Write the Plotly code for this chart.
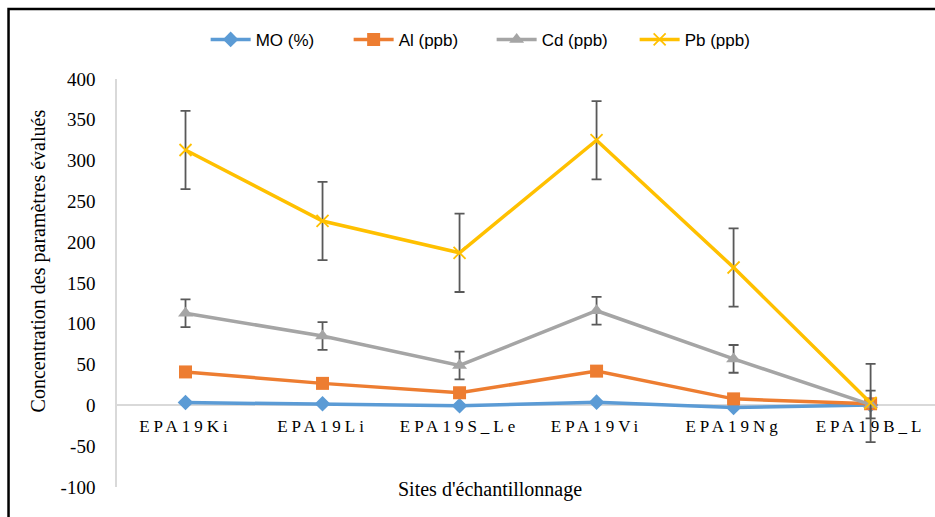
import plotly.graph_objects as go

sites = ["EPA19Ki", "EPA19Li", "EPA19S_Le", "EPA19Vi", "EPA19Ng", "EPA19B_L"]
mo = [3.5, 2, -0.5, 4, -2.5, 0.5]
al = [41, 27, 15.5, 42, 8, 2]
cd = [113, 85, 49, 116, 57, 1]
pb = [313, 226, 187, 325, 169, 3]
cd_err = [17, 17, 17, 17, 17, 17]
pb_err = [48, 48, 48, 48, 48, 48]
y_ticks = [-100, -50, 0, 50, 100, 150, 200, 250, 300, 350, 400]
y_tick_labels = ["-100", "-50", "0", "50", "100", "150", "200", "250", "300", "350", "400"]

serif = "Liberation Serif, Times New Roman, serif"
sans = "Liberation Sans Narrow, Arial Narrow, Liberation Sans, sans-serif"

fig = go.Figure()
err_style = dict(type="data", color="#595959", thickness=1.8, width=5)

fig.add_trace(go.Scatter(x=sites, y=mo, name="MO (%)", mode="lines+markers",
                         line=dict(color="#5B9BD5", width=3.5),
                         marker=dict(symbol="diamond", size=12, color="#5B9BD5")))
fig.add_trace(go.Scatter(x=sites, y=al, name="Al (ppb)", mode="lines+markers",
                         line=dict(color="#ED7D31", width=3.5),
                         marker=dict(symbol="square", size=13, color="#ED7D31")))
fig.add_trace(go.Scatter(x=sites, y=cd, name="Cd (ppb)", mode="lines+markers",
                         line=dict(color="#A5A5A5", width=3.5),
                         marker=dict(symbol="triangle-up", size=13, color="#A5A5A5"),
                         error_y=dict(array=cd_err, **err_style)))
fig.add_trace(go.Scatter(x=sites, y=pb, name="Pb (ppb)", mode="lines+markers",
                         line=dict(color="#FFC000", width=3.5),
                         marker=dict(symbol="x-thin-open", size=12,
                                     line=dict(color="#FFC000", width=1.8)),
                         error_y=dict(array=pb_err, **err_style)))

fig.update_layout(
    width=935, height=517,
    margin=dict(l=117, r=0, t=79, b=30),
    paper_bgcolor="white", plot_bgcolor="white",
    showlegend=True,
    legend=dict(orientation="h", x=0.458, xanchor="center", y=1.096, yanchor="middle",
                font=dict(family=sans, size=17, color="#000000"),
                bgcolor="rgba(0,0,0,0)", traceorder="normal", itemwidth=40,
                entrywidth=88, entrywidthmode="pixels"),
    xaxis=dict(type="category", range=[-0.5, 5.47], anchor="free", position=0.2,
               showline=False, showgrid=False, zeroline=False, ticks="",
               tickmode="array", tickvals=sites,
               ticktext=[f'<span style="letter-spacing:4px">{s}</span>' for s in sites],
               tickfont=dict(family=serif, size=17, color="#000000"),
               ticklabelstandoff=9),
    yaxis=dict(range=[-100, 400], tickmode="array", tickvals=y_ticks, ticktext=y_tick_labels,
               showgrid=False, zeroline=True, zerolinecolor="#D9D9D9", zerolinewidth=1.5,
               showline=True, linecolor="#D9D9D9", linewidth=1.5, ticks="",
               tickfont=dict(family=serif, size=19, color="#000000"),
               ticklabelstandoff=16),
    annotations=[
        dict(text="Concentration des paramètres évalués", textangle=-90,
             xref="paper", yref="paper", x=-0.096, y=0.554, showarrow=False,
             xanchor="center", yanchor="middle",
             font=dict(family=serif, size=20, color="#000000")),
        dict(text="Sites d'échantillonnage", xref="paper", yref="paper",
             x=0.456, y=-0.007, showarrow=False, xanchor="center", yanchor="middle",
             font=dict(family=serif, size=20, color="#000000")),
    ],
    shapes=[
        dict(type="rect", xref="paper", yref="paper", x0=-0.1326, x1=1.01,
             y0=-0.1, y1=1.1716, line=dict(color="#000000", width=2.5),
             fillcolor="rgba(0,0,0,0)", layer="above"),
    ],
)

fig.write_html("out.html")
